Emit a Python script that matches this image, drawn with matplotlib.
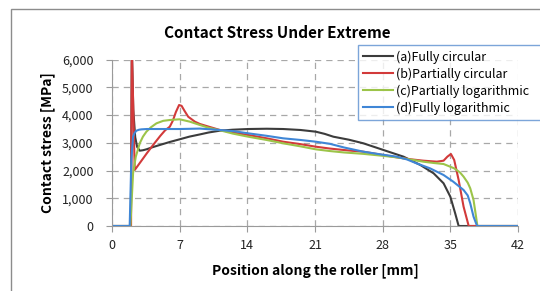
import matplotlib.pyplot as plt
import numpy as np
from matplotlib.patches import Rectangle
from matplotlib.ticker import FuncFormatter

plt.rcParams['font.family'] = ['Noto Sans CJK KR', 'DejaVu Sans']

# (a) Fully circular
xa = [0, 1.95, 2.05, 2.2, 2.4, 2.6, 2.87, 3.2, 3.56, 4.2, 4.94, 6, 7, 8, 9.09, 10,
      11.16, 12.5, 14.09, 16, 17.7, 19.5, 21.08, 22.0, 22.9, 24.5, 26, 28.08, 30.16,
      31.9, 33.27, 34.3, 35, 35.5, 35.86, 36, 42]
ya = [0, 0, 6500, 4200, 3200, 2850, 2714, 2730, 2763, 2840, 2919, 3030, 3124, 3220,
      3300, 3370, 3435, 3470, 3495, 3505, 3495, 3460, 3399, 3320, 3218, 3110, 2980,
      2739, 2498, 2198, 1899, 1539, 1056, 458, 0, 0, 0]

# (b) Partially circular
xb = [0, 1.97, 2.05, 2.35, 3.0, 3.6, 4.25, 5.0, 5.5, 5.98, 6.3, 6.6, 6.94, 7.2, 7.5,
      7.88, 8.57, 9.09, 10, 11.16, 12.5, 14.09, 16, 17.7, 19.5, 21.08, 22.56, 24.5, 26,
      28, 29.45, 31, 32.2, 33.6, 34.3, 34.7, 35.06, 35.4, 35.86, 36.37, 36.9, 42]
yb = [0, 0, 6500, 2018, 2330, 2620, 2919, 3250, 3450, 3579, 3800, 4100, 4360, 4330,
      4150, 3939, 3760, 3676, 3580, 3460, 3370, 3280, 3160, 3038, 2950, 2858, 2790,
      2720, 2678, 2560, 2474, 2400, 2354, 2318, 2354, 2500, 2595, 2378, 1658, 697, 0, 0]

# (c) Partially logarithmic
xc = [0, 1.9, 2.18, 2.46, 2.87, 3.2, 3.56, 4.0, 4.6, 5.3, 5.98, 7, 8.05, 9.09, 10,
      11.16, 12.5, 14.09, 16, 17.7, 19.5, 21.08, 22.56, 24, 26, 28, 29.45, 31, 32.2,
      33.3, 34.3, 35.4, 36, 36.37, 36.8, 37.06, 37.4, 37.66, 37.8, 42]
yc = [0, 0, 1900, 2498, 2980, 3220, 3399, 3550, 3700, 3790, 3820, 3845, 3760, 3640,
      3540, 3450, 3330, 3218, 3100, 2980, 2870, 2763, 2700, 2650, 2600, 2530, 2474,
      2390, 2318, 2270, 2234, 2078, 1930, 1778, 1560, 1358, 937, 337, 0, 0]

# (d) Fully logarithmic
xd = [0, 1.83, 2.0, 2.18, 2.35, 2.53, 2.8, 3.05, 3.6, 5, 7, 9.09, 11.16, 12.5, 14.09,
      16, 17.7, 19.5, 21.08, 22.56, 24, 26, 28, 29.45, 30.5, 31.5, 32.9, 34.3, 35.3,
      36.37, 36.8, 37.06, 37.4, 37.7, 37.8, 42]
yd = [0, 0, 2400, 3218, 3360, 3435, 3470, 3483, 3495, 3495, 3495, 3510, 3460, 3420,
      3340, 3250, 3160, 3100, 3038, 2960, 2830, 2678, 2570, 2498, 2400, 2258, 2078,
      1838, 1598, 1297, 1100, 818, 337, 60, 0, 0]

labels = ['(a)Fully circular', '(b)Partially circular',
          '(c)Partially logarithmic', '(d)Fully logarithmic']
colors = ['#3c3c3c', '#d23a3a', '#9cc449', '#3f86d6']

fig = plt.figure(figsize=(5.4, 2.91), dpi=100)
ax = fig.add_axes([112 / 540, 65 / 291, 406 / 540, 166.5 / 291])

for xs, ys, lab, col in zip([xa, xb, xc, xd], [ya, yb, yc, yd], labels, colors):
    ax.plot(xs, ys, color=col, lw=1.5, label=lab)

ax.set_xlim(0, 42)
ax.set_ylim(0, 6000)
ax.set_xticks(np.arange(0, 43, 7))
ax.set_yticks(np.arange(0, 6001, 1000))
ax.yaxis.set_major_formatter(FuncFormatter(lambda v, p: f'{v:,.0f}'))

ax.grid(True, linestyle=(0, (5, 4)), color='#a8a8a8', lw=0.9)
ax.spines['right'].set_color('none')
ax.spines['top'].set_color('none')
ax.spines['left'].set_color('#9a9a9a')
ax.spines['bottom'].set_color('#9a9a9a')
ax.tick_params(axis='both', direction='out', length=4.3, color='#9a9a9a',
               labelsize=9, labelcolor='#222222')
ax.tick_params(axis='y', pad=9)
ax.tick_params(axis='x', pad=5)

ax.set_xlabel('Position along the roller [mm]', fontsize=10, fontweight='bold', labelpad=8)
ax.set_ylabel('Contact stress [MPa]', fontsize=10, fontweight='bold', labelpad=5)
fig.text(277 / 540, 1 - 33 / 291, 'Contact Stress Under Extreme', fontsize=11,
         fontweight='bold', ha='center', va='center')

leg = ax.legend(loc='upper left', bbox_to_anchor=(358 / 540, 1 - 45 / 291, 300 / 540, 0),
                bbox_transform=fig.transFigure, mode='expand', fontsize=9,
                frameon=True, fancybox=False, borderpad=0.42, labelspacing=0.3,
                handlelength=2.4, handletextpad=0.2, borderaxespad=0)
leg.get_frame().set_edgecolor('#5b8fd0')
leg.get_frame().set_linewidth(1.0)

fig.patches.append(Rectangle((11 / 540, -0.1), 1.2, 0.1 + (291 - 8.6) / 291,
                             transform=fig.transFigure, facecolor='none',
                             edgecolor='#8c8c8c', lw=1.0))

fig.savefig('out.png', dpi=100)
